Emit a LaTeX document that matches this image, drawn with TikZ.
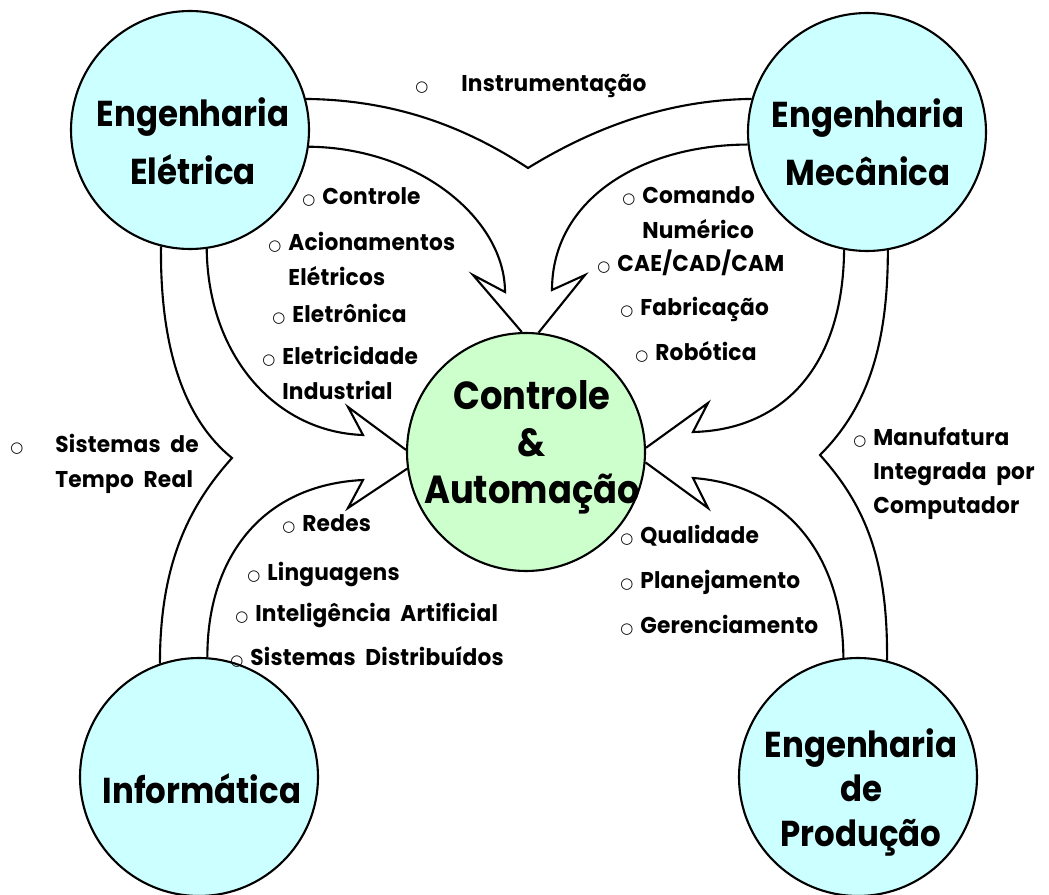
\documentclass[tikz,border=0pt]{standalone}
\usepackage{fontspec}
\setmainfont{Poppins}[FakeStretch=0.9]
\newfontfamily\topicfont{Poppins}[FakeStretch=0.95,LetterSpace=1,WordSpace=2]
\newfontfamily\bulletfont{DejaVu Sans}
\definecolor{areablue}{RGB}{204,255,255}
\definecolor{coregreen}{RGB}{204,255,204}
\newcommand{\bul}[1][0.4cm]{\makebox[#1][l]{\bulletfont\fontsize{8.5}{8.5}\selectfont ○}}
\newcommand{\lines}[2][l]{\begin{tabular}[t]{@{}#1@{}}#2\end{tabular}}
\pgfdeclarelayer{bg}
\pgfsetlayers{bg,main}
\tikzset{
  area/.style={circle,draw,line width=1.2pt,fill=areablue,minimum size=4.76cm,inner sep=0pt},
  core/.style={area,fill=coregreen},
  band/.style={line width=1.2pt,line join=miter},
  title/.style={anchor=base,inner sep=0pt,font=\bfseries\fontsize{20.5}{#1}\selectfont},
  title/.default=25.6,
  topic/.style={anchor=base west,inner sep=0pt,font=\topicfont\bfseries\fontsize{13}{19.4}\selectfont},
}
\begin{document}
\begin{tikzpicture}[x=0.02cm,y=-0.02cm]
    \useasboundingbox (0,0) rectangle (1049,895);
    \node[area] (ee) at (190,130) {};
    \node[area] (em) at (867,132) {};
    \node[area] (inf) at (199,777) {};
    \node[area] (ep) at (858,777) {};
    \node[core] (ca) at (526,452) {};
    \begin{pgfonlayer}{bg}
    \draw[band] (ee.15) .. controls (400,100) and (470,130) .. (528,168)
        .. controls (585,133) and (660,100) .. (em.164);
    \draw[band] (ee.-8) .. controls (420,148) and (505,220) .. (505,292) -- (473,275) -- (ca.92);
    \draw[band] (em.186) .. controls (640,145) and (552,200) .. (552,290) -- (585,275) -- (ca.84);
    \draw[band] (ee.-82) .. controls (208,355) and (275,432) .. (363,435) -- (348,407) -- (ca.179);
    \draw[band] (ee.-104) .. controls (160,350) and (185,420) .. (232,458)
        .. controls (185,510) and (160,570) .. (inf.109);
    \draw[band] (inf.86) .. controls (207,560) and (260,485) .. (363,480) -- (348,508) -- (ca.188);
    \draw[band] (em.-101) .. controls (843,370) and (780,430) .. (693,432) -- (708,403) -- (ca.2);
    \draw[band] (em.-80) .. controls (888,350) and (865,410) .. (820,455)
        .. controls (865,505) and (888,560) .. (ep.76);
    \draw[band] (ep.97) .. controls (843,560) and (790,485) .. (693,478) -- (708,508) -- (ca.-5);
    \end{pgfonlayer}
    \node[title=33] (eet) at (193,127) {\lines[c]{Engenharia\\Elétrica}};
    \node[title=33] (emt) at (868,128) {\lines[c]{Engenharia\\Mecânica}};
    \node[title] (inft) at (202,803) {Informática};
    \node[title] (ept) at (861,757) {\lines[c]{Engenharia\\de\\Produção}};
    \node[title=26.5,font=\bfseries\fontsize{22.3}{26.5}\selectfont] (cat) at (532,410)
        {\lines[c]{Controle\\\&\\Automação}};
    \node[topic] (i0) at (415,92) {\bul[0.92cm]Instrumentação};
    \node[topic] (s0) at (10,453) {\bul[0.9cm]\lines{Sistemas de\\Tempo Real}};
    \node[topic] (c1) at (302,205) {\bul Controle};
    \node[topic] (c2) at (268,251) {\bul\lines{Acionamentos\\Elétricos}};
    \node[topic] (c3) at (272,323) {\bul Eletrônica};
    \node[topic] (c4) at (262,365) {\bul\lines{Eletricidade\\Industrial}};
    \node[topic] (m1) at (622,204) {\bul\lines{Comando\\Numérico}};
    \node[topic] (m2) at (597,272) {\bul CAE/CAD/CAM};
    \node[topic] (m3) at (620,316) {\bul Fabricação};
    \node[topic] (m4) at (635,361) {\bul Robótica};
    \node[topic] (p0) at (853,445) {\bul\lines{Manufatura\\Integrada por\\Computador}};
    \node[topic] (r1) at (282,531) {\bul Redes};
    \node[topic] (r2) at (247,581) {\bul Linguagens};
    \node[topic] (r3) at (235,621) {\bul Inteligência Artificial};
    \node[topic] (r4) at (230,665) {\bul Sistemas Distribuídos};
    \node[topic] (q1) at (620,543) {\bul Qualidade};
    \node[topic] (q2) at (620,588) {\bul Planejamento};
    \node[topic] (q3) at (620,633) {\bul Gerenciamento};
\end{tikzpicture}
\end{document}
